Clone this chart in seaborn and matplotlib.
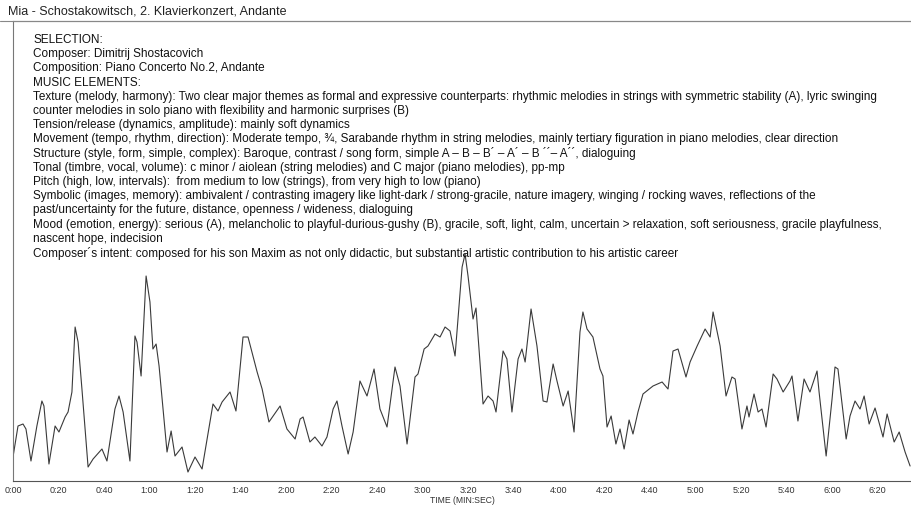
import numpy as np
import pandas as pd
import matplotlib
matplotlib.use("Agg")
import matplotlib.pyplot as plt
import seaborn as sns
from matplotlib.ticker import MultipleLocator, FuncFormatter

# 曲线数据（从图上读出：时间/秒，强度/任意单位）
time_sec = [0, 2.2, 4.4, 5.7, 7.9, 10.5, 12.7, 13.6, 15.8, 18.5, 20.2, 22.9, 24.2, 25.9,
            27.3, 28.6, 30.3, 33, 35.2, 39.1, 41.3, 44.8, 46.6, 48.4, 51.4, 53.6, 54.5,
            56.3, 58.5, 60.2, 61.5, 62.9, 64.2, 67.7, 69.5, 71.2, 74.3, 76.9, 80, 83.1,
            87.9, 90.1, 91.9, 95.4, 98, 101.1, 103.3, 107.3, 109.5, 112.5, 117.4, 120.4,
            124, 126.2, 127.5, 130.5, 132.7, 135.8, 138, 140.7, 142.4, 144.6, 147.3,
            149.5, 152.5, 155.6, 158.7, 161.3, 164.4, 167.9, 170.1, 173.2, 176.7, 178,
            180.7, 182.4, 185.5, 187.7, 189.9, 192.1, 194.3, 197.4, 198.7, 200, 202.2,
            203.5, 206.2, 206.6, 208.8, 211, 212.3, 215.4, 217.1, 219.3, 222, 223.7,
            225.1, 227.7, 230.3, 233, 234.7, 237.4, 239.1, 241.8, 244, 246.6, 249.2,
            250.5, 252.3, 254.9, 258, 259.3, 261.1, 262.9, 265, 266.8, 268.6, 270.8,
            272.5, 274.7, 276.9, 281.3, 285.3, 287.9, 290.1, 292.3, 295.8, 297.6, 300.7,
            304.2, 306.4, 307.7, 310.8, 313.4, 316, 317.4, 320.4, 322.6, 323.5, 325.7,
            327.5, 329.2, 331, 334.1, 335.8, 338.5, 341.5, 342.4, 345, 347.7, 350.3,
            353.4, 354.3, 357.4, 360, 361.3, 362.6, 366.2, 367.9, 370.1, 372.3, 374.1,
            376.3, 378.9, 382.4, 384.2, 387.3, 389.5, 392.1, 394.3]
level = [24, 55, 57, 52, 20, 55, 80, 75, 17, 55, 49, 64, 69, 89,
         154, 139, 92, 14, 22, 32, 20, 72, 85, 69, 20, 145, 139,
         105, 205, 179, 132, 137, 115, 29, 50, 25, 34, 9, 24, 12,
         77, 70, 79, 89, 70, 144, 144, 109, 92, 59, 75, 52,
         42, 62, 64, 39, 44, 35, 44, 72, 80, 55, 27,
         49, 100, 85, 112, 72, 54, 114, 95, 37, 104, 107,
         132, 135, 147, 144, 154, 150, 125, 214, 227, 205, 162,
         173, 89, 77, 85, 80, 69, 130, 122, 69, 122, 132,
         119, 172, 135, 80, 79, 117, 100, 75, 90, 49, 149,
         169, 152, 144, 112, 105, 54, 65, 37, 52, 32, 61,
         47, 69, 87, 95, 99, 92, 130, 132, 104, 119, 135,
         152, 144, 169, 135, 85, 104, 102, 52, 75, 64, 87,
         69, 72, 54, 107, 102, 89, 100, 105, 60, 102, 89,
         110, 89, 25, 82, 114, 112, 42, 65, 80, 72, 85,
         57, 73, 44, 67, 39, 49, 29, 15]

title = "Mia - Schostakowitsch, 2. Klavierkonzert, Andante"
notes = [
    "SELECTION:",
    "Composer: Dimitrij Shostacovich",
    "Composition: Piano Concerto No.2, Andante",
    "MUSIC ELEMENTS:",
    "Texture (melody, harmony): Two clear major themes as formal and expressive counterparts: rhythmic melodies in strings with symmetric stability (A), lyric swinging",
    "counter melodies in solo piano with flexibility and harmonic surprises (B)",
    "Tension/release (dynamics, amplitude): mainly soft dynamics",
    "Movement (tempo, rhythm, direction): Moderate tempo, \u00be, Sarabande rhythm in string melodies, mainly tertiary figuration in piano melodies, clear direction",
    "Structure (style, form, simple, complex): Baroque, contrast / song form, simple A \u2013 B \u2013 B\u00b4 \u2013 A\u00b4 \u2013 B \u00b4\u00b4\u2013 A\u00b4\u00b4, dialoguing",
    "Tonal (timbre, vocal, volume): c minor / aiolean (string melodies) and C major (piano melodies), pp-mp",
    "Pitch (high, low, intervals):  from medium to low (strings), from very high to low (piano)",
    "Symbolic (images, memory): ambivalent / contrasting imagery like light-dark / strong-gracile, nature imagery, winging / rocking waves, reflections of the",
    "past/uncertainty for the future, distance, openness / wideness, dialoguing",
    "Mood (emotion, energy): serious (A), melancholic to playful-durious-gushy (B), gracile, soft, light, calm, uncertain > relaxation, soft seriousness, gracile playfulness,",
    "nascent hope, indecision",
    "Composer\u00b4s intent: composed for his son Maxim as not only didactic, but substantial artistic contribution to his artistic career",
]

df = pd.DataFrame({"t": time_sec, "v": level})

sns.set_style("white")
plt.rcParams['font.family'] = ['Liberation Sans', 'DejaVu Sans']

W, H = 911, 506
fig = plt.figure(figsize=(W / 100, H / 100), dpi=100)
ax = fig.add_axes([13 / W, (H - 482) / H, (W - 13) / W, (482 - 22) / H])

sns.lineplot(data=df, x="t", y="v", ax=ax, color="#3a3a3a", linewidth=0.8)

ax.set_xlim(0, 394.7)
ax.set_ylim(0, 460)
ax.set_yticks([])
ax.set_ylabel("")
ax.xaxis.set_major_locator(MultipleLocator(20))
ax.xaxis.set_minor_locator(MultipleLocator(10))
ax.xaxis.set_major_formatter(FuncFormatter(lambda s, p: "%d:%02d" % (int(s) // 60, int(s) % 60)))
ax.tick_params(axis="x", which="major", direction="in", length=4, width=0.8, colors="#555555",
               labelsize=6.5, labelcolor="#333333", pad=3)
ax.tick_params(axis="x", which="minor", direction="in", length=3, width=0.7, colors="#555555")
ax.set_xlabel("TIME (MIN:SEC)", fontsize=6.2, color="#333333", labelpad=0.5)

for side in ["left", "top", "bottom"]:
    ax.spines[side].set_color("#777777")
    ax.spines[side].set_linewidth(0.8)
ax.spines["right"].set_visible(False)
ax.spines["bottom"].set_color("#555555")

# 标题（框线外）
fig.text(8 / W, 1 - 12 / H, title, fontsize=9, color="#222222", va="center", ha="left")
# 上方一条横线贯穿全宽
fig.add_artist(plt.Line2D([0, 1], [1 - 22 / H, 1 - 22 / H], color="#888888", linewidth=0.8))

# 说明文字
for i, line in enumerate(notes):
    y = 40 + 14.2 * i
    fig.text(33 / W, 1 - y / H, line, fontsize=8.5, color="#111111", va="center", ha="left")

fig.savefig("out.png", dpi=100)
